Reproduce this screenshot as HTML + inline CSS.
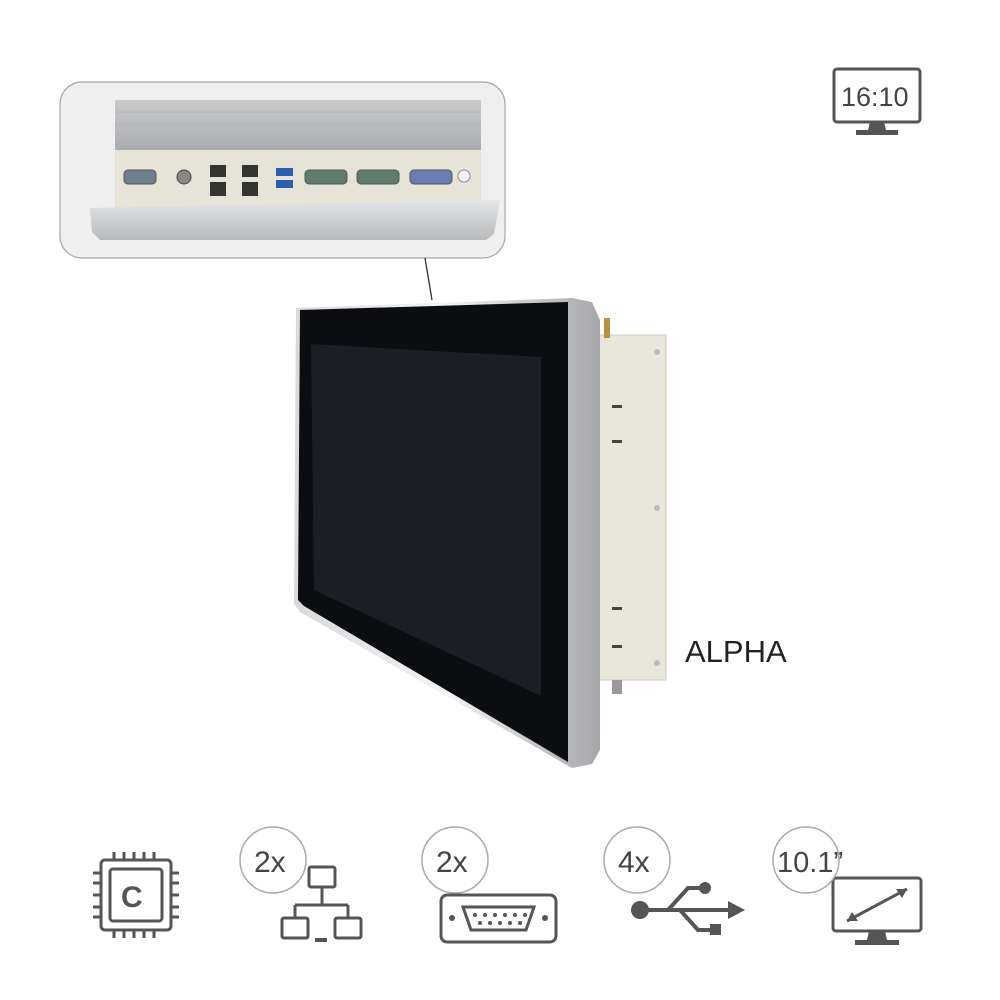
<!DOCTYPE html>
<html><head><meta charset="utf-8"><style>
html,body{margin:0;padding:0;background:#fff;}
svg{display:block;}
text{font-family:"Liberation Sans",sans-serif;}
</style></head><body>
<svg width="1000" height="1000" viewBox="0 0 1000 1000" xmlns="http://www.w3.org/2000/svg">
<defs>
<linearGradient id="metal" x1="0" y1="0" x2="0" y2="1"><stop offset="0" stop-color="#c9cacc"/><stop offset="1" stop-color="#a9abae"/></linearGradient>
<linearGradient id="rim" x1="0" y1="0" x2="1" y2="0"><stop offset="0" stop-color="#d8d9db"/><stop offset="0.5" stop-color="#f4f4f5"/><stop offset="1" stop-color="#a6a7aa"/></linearGradient>
<linearGradient id="bez" x1="0" y1="0" x2="0" y2="1"><stop offset="0" stop-color="#e4e5e6"/><stop offset="1" stop-color="#b9babc"/></linearGradient>
</defs>
<!-- inset box -->
<rect x="60" y="82" width="445" height="176" rx="22" fill="#efefef" stroke="#a8a8a8" stroke-width="1.2"/>
<rect x="115" y="100" width="366" height="52" fill="url(#metal)"/>
<g stroke="#b3b4b6" stroke-width="1"><line x1="115" y1="112" x2="481" y2="112"/><line x1="115" y1="124" x2="481" y2="124"/><line x1="115" y1="136" x2="481" y2="136"/></g>
<rect x="115" y="150" width="366" height="58" fill="#e6e4d6"/>
<polygon points="90,208 500,200 494,234 486,240 100,240 92,232" fill="url(#bez)"/>
<!-- connectors -->
<g fill="#6f7f8e" stroke="#555" stroke-width="1">
<rect x="124" y="170" width="32" height="14" rx="4"/>
<rect x="305" y="170" width="42" height="14" rx="4" fill="#5f7b6e"/>
<rect x="357" y="170" width="42" height="14" rx="4" fill="#5f7b6e"/>
<rect x="410" y="170" width="42" height="14" rx="4" fill="#6a7cb0"/>
</g>
<circle cx="184" cy="177" r="7" fill="#888" stroke="#444"/>
<g fill="#333"><rect x="210" y="165" width="16" height="12"/><rect x="210" y="182" width="16" height="14"/><rect x="242" y="165" width="16" height="12"/><rect x="242" y="182" width="16" height="14"/></g>
<g fill="#2b5fb0"><rect x="276" y="168" width="17" height="8"/><rect x="276" y="180" width="17" height="8"/></g>
<circle cx="464" cy="176" r="6" fill="#f4f4f4" stroke="#888"/>
<line x1="425" y1="258" x2="432" y2="300" stroke="#333" stroke-width="1.3"/>
<!-- back box -->
<rect x="598" y="335" width="68" height="345" fill="#e9e7da" stroke="#cfcdbf"/>
<g fill="#444"><rect x="612" y="405" width="10" height="3"/><rect x="612" y="440" width="10" height="3"/><rect x="612" y="607" width="10" height="3"/><rect x="612" y="645" width="10" height="3"/></g>
<g fill="#bbb"><circle cx="657" cy="352" r="3"/><circle cx="657" cy="508" r="3"/><circle cx="657" cy="663" r="3"/></g>
<rect x="604" y="318" width="6" height="20" fill="#b8913f"/>
<rect x="612" y="680" width="10" height="14" fill="#999"/>
<!-- monitor front -->
<polygon points="296,308 572,298 592,302 600,320 600,750 592,764 572,768 300,612 294,604" fill="url(#rim)"/>
<polygon points="300,310 568,302 568,762 304,606 298,600" fill="#0c0d10"/>
<polygon points="311,344 541,357 541,696 314,590" fill="#1b1e25"/>
<text x="685" y="662" font-size="31" fill="#222">ALPHA</text>
<!-- 16:10 icon -->
<g stroke="#555" stroke-width="3" fill="none"><rect x="834" y="69" width="86" height="53" rx="3"/></g>
<text x="841" y="106" font-size="27" fill="#444">16:10</text>
<polygon points="870,122 884,122 886,130 868,130" fill="#555"/><rect x="856" y="130" width="42" height="5" fill="#555"/>
<!-- CPU icon -->
<g stroke="#555" stroke-width="3" fill="none">
<rect x="101" y="860" width="70" height="70" rx="4"/>
<rect x="110" y="869" width="52" height="52" rx="3"/>
</g>
<g stroke="#555" stroke-width="3">
<line x1="114" y1="852" x2="114" y2="860"/><line x1="124" y1="852" x2="124" y2="860"/><line x1="134" y1="852" x2="134" y2="860"/><line x1="144" y1="852" x2="144" y2="860"/><line x1="154" y1="852" x2="154" y2="860"/>
<line x1="114" y1="930" x2="114" y2="938"/><line x1="124" y1="930" x2="124" y2="938"/><line x1="134" y1="930" x2="134" y2="938"/><line x1="144" y1="930" x2="144" y2="938"/><line x1="154" y1="930" x2="154" y2="938"/>
<line x1="93" y1="873" x2="101" y2="873"/><line x1="93" y1="883" x2="101" y2="883"/><line x1="93" y1="895" x2="101" y2="895"/><line x1="93" y1="907" x2="101" y2="907"/><line x1="93" y1="917" x2="101" y2="917"/>
<line x1="171" y1="873" x2="179" y2="873"/><line x1="171" y1="883" x2="179" y2="883"/><line x1="171" y1="895" x2="179" y2="895"/><line x1="171" y1="907" x2="179" y2="907"/><line x1="171" y1="917" x2="179" y2="917"/>
</g>
<text x="121" y="907" font-size="30" font-weight="bold" fill="#555">C</text>
<!-- LAN -->
<circle cx="273" cy="860" r="33" fill="#fff" stroke="#aaa" stroke-width="1.5"/>
<text x="254" y="872" font-size="30" fill="#444">2x</text>
<g stroke="#555" stroke-width="3" fill="none">
<rect x="309" y="867" width="26" height="20" rx="2"/>
<rect x="282" y="918" width="26" height="20" rx="2"/>
<rect x="335" y="918" width="26" height="20" rx="2"/>
<line x1="322" y1="887" x2="322" y2="905"/><line x1="295" y1="905" x2="348" y2="905"/><line x1="295" y1="905" x2="295" y2="918"/><line x1="348" y1="905" x2="348" y2="918"/>
</g>
<rect x="315" y="938" width="12" height="4" fill="#555"/>
<!-- COM -->
<circle cx="455" cy="860" r="33" fill="#fff" stroke="#aaa" stroke-width="1.5"/>
<text x="436" y="872" font-size="30" fill="#444">2x</text>
<rect x="441" y="895" width="115" height="47" rx="6" fill="#fff" stroke="#555" stroke-width="3"/>
<polygon points="463,907 534,907 526,930 471,930" fill="none" stroke="#555" stroke-width="3"/>
<g fill="#555"><circle cx="475" cy="915" r="2"/><circle cx="485" cy="915" r="2"/><circle cx="495" cy="915" r="2"/><circle cx="505" cy="915" r="2"/><circle cx="515" cy="915" r="2"/><circle cx="525" cy="915" r="2"/><circle cx="480" cy="923" r="2"/><circle cx="490" cy="923" r="2"/><circle cx="500" cy="923" r="2"/><circle cx="510" cy="923" r="2"/><circle cx="520" cy="923" r="2"/></g>
<circle cx="452" cy="918" r="3" fill="#555"/><circle cx="545" cy="918" r="3" fill="#555"/>
<!-- USB -->
<circle cx="637" cy="860" r="33" fill="#fff" stroke="#aaa" stroke-width="1.5"/>
<text x="618" y="872" font-size="30" fill="#444">4x</text>
<g stroke="#555" stroke-width="4" fill="none">
<line x1="645" y1="910" x2="730" y2="910"/>
<polyline points="668,910 688,888 700,888"/>
<polyline points="680,910 698,930 712,930"/>
</g>
<circle cx="640" cy="910" r="9" fill="#555"/>
<circle cx="705" cy="888" r="6" fill="#555"/>
<rect x="710" y="924" width="11" height="11" fill="#555"/>
<polygon points="728,901 745,910 728,919" fill="#555"/>
<!-- 10.1 -->
<g stroke="#555" stroke-width="3" fill="none"><rect x="833" y="878" width="88" height="53" rx="3"/>
<line x1="847" y1="921" x2="907" y2="889"/></g>
<polygon points="907,889 896,889 902,898" fill="#555"/><polygon points="847,921 858,921 852,912" fill="#555"/>
<polygon points="869,931 885,931 887,940 867,940" fill="#555"/><rect x="855" y="940" width="44" height="5" fill="#555"/>
<circle cx="806" cy="860" r="33" fill="#fff" stroke="#aaa" stroke-width="1.5"/>
<text x="777" y="872" font-size="29" fill="#444">10.1”</text>
</svg>
</body></html>
